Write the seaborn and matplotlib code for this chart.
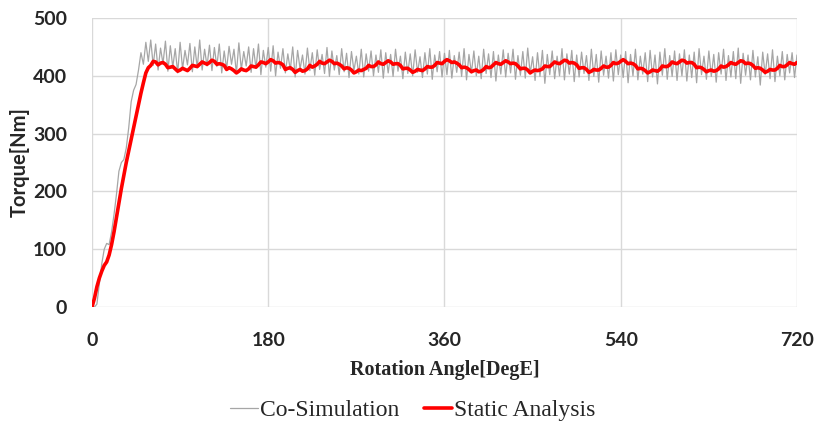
import numpy as np
import pandas as pd
import seaborn as sns
import matplotlib.pyplot as plt

sns.set_style("white")

# rotation angle, every 2.5 deg from 0 to 720
angle = np.arange(0, 720.01, 2.5)

# Co-Simulation torque
cosim_torque = [
    0, 0, 5, 40, 75, 100, 110, 108, 130, 160, 195, 235, 250, 255, 275, 310, 355, 375, 385, 410, 440, 420, 458, 425, 462,
    418, 455, 410, 448, 421, 460, 408, 452, 415, 447, 405, 458, 412, 444, 419, 456, 407, 450, 414, 462, 410, 446, 417, 453,
    409, 449, 416, 455, 405, 443, 412, 451, 420, 446, 404, 457, 411, 442, 417, 450, 406, 447, 413, 455, 402, 444, 415, 449,
    408, 452, 400, 441, 413, 447, 405, 438, 410, 450, 398, 444, 412, 436, 403, 448, 409, 440, 401, 445, 411, 437, 404, 449,
    399, 443, 410, 435, 402, 447, 407, 439, 397, 442, 409, 434, 403, 446, 398, 438, 408, 443, 400, 436, 406, 445, 396, 440,
    405, 437, 399, 446, 408, 434, 395, 441, 404, 438, 400, 445, 406, 433, 397, 440, 403, 447, 394, 436, 407, 442, 398, 439,
    402, 444, 396, 435, 406, 441, 399, 447, 393, 437, 405, 443, 400, 434, 395, 446, 404, 438, 397, 442, 391, 436, 403, 445,
    398, 439, 405, 446, 394, 435, 401, 442, 396, 448, 404, 433, 392, 440, 399, 444, 387, 437, 402, 443, 395, 434, 400, 447,
    393, 438, 403, 444, 390, 436, 398, 441, 404, 435, 392, 446, 399, 437, 389, 443, 401, 434, 396, 440, 391, 445, 402, 436,
    397, 442, 388, 437, 400, 446, 393, 434, 403, 440, 390, 444, 398, 436, 386, 441, 401, 447, 394, 435, 399, 443, 392, 438,
    400, 445, 391, 436, 397, 441, 388, 447, 402, 434, 394, 443, 399, 437, 389, 440, 403, 446, 392, 435, 398, 442, 395, 448,
    387, 439, 401, 436, 393, 444, 398, 433, 384, 441, 402, 438, 395, 445, 390, 434, 400, 442, 393, 437, 405, 440, 397, 436,
]

# Static analysis torque
static_torque = [
    0, 15, 35, 50, 62, 72, 78, 90, 108, 130, 155, 180, 205, 228, 250, 270, 290, 310, 330, 350, 370, 388, 405, 414, 418,
    425, 424, 419, 422, 423, 420, 414, 415, 416, 412, 408, 410, 413, 411, 409, 413, 418, 417, 416, 420, 424, 422, 420, 423,
    427, 425, 420, 421, 420, 418, 411, 414, 412, 409, 405, 408, 412, 410, 409, 412, 417, 416, 415, 419, 424, 423, 421, 424,
    428, 426, 422, 423, 422, 419, 411, 413, 414, 411, 406, 409, 411, 408, 409, 412, 418, 415, 417, 420, 425, 422, 421, 424,
    427, 425, 421, 422, 420, 417, 412, 414, 413, 410, 405, 407, 410, 409, 411, 413, 418, 416, 416, 419, 424, 421, 420, 423,
    426, 424, 420, 421, 421, 418, 412, 413, 413, 410, 406, 408, 411, 410, 409, 412, 416, 415, 415, 418, 423, 422, 421, 425,
    428, 426, 423, 424, 422, 419, 414, 415, 414, 411, 407, 409, 410, 407, 408, 411, 416, 414, 415, 419, 423, 421, 420, 423,
    426, 424, 421, 422, 421, 417, 412, 413, 413, 410, 405, 408, 410, 409, 410, 412, 417, 416, 416, 420, 424, 422, 421, 424,
    427, 426, 422, 423, 422, 419, 413, 414, 414, 411, 406, 408, 411, 410, 410, 413, 417, 415, 415, 418, 423, 421, 422, 425,
    428, 425, 421, 422, 421, 418, 412, 413, 412, 409, 405, 407, 410, 409, 408, 411, 417, 416, 416, 419, 424, 422, 421, 424,
    427, 426, 422, 423, 423, 420, 414, 415, 414, 411, 407, 409, 410, 408, 409, 412, 417, 415, 416, 419, 423, 421, 420, 423,
    426, 425, 421, 422, 421, 418, 413, 414, 413, 410, 406, 408, 411, 410, 410, 413, 418, 416, 416, 419, 423, 421, 420, 423,
]

x_ticks = [0, 180, 360, 540, 720]
y_ticks = [0, 100, 200, 300, 400, 500]

df = pd.DataFrame({
    'angle': np.concatenate([angle, angle]),
    'torque': cosim_torque + static_torque,
    'series': ['Co-Simulation'] * len(angle) + ['Static Analysis'] * len(angle),
})

fig = plt.figure(figsize=(8.17, 4.25), dpi=100)
ax = fig.add_axes([0.1126, 0.2776, 0.8629, 0.68])

sns.lineplot(data=df, x='angle', y='torque', hue='series', size='series',
             palette={'Co-Simulation': '#a6a6a6', 'Static Analysis': '#ff0000'},
             sizes={'Co-Simulation': 0.9, 'Static Analysis': 2.6}, ax=ax)

ax.set_xlim(0, 720)
ax.set_ylim(0, 500)
ax.set_xticks(x_ticks)
ax.set_yticks(y_ticks)
ax.grid(True, color='#d9d9d9', linewidth=1)
ax.set_axisbelow(True)
for s in ax.spines.values():
    s.set_visible(False)

ax.tick_params(axis='both', length=0, labelsize=14)
ax.tick_params(axis='x', pad=18)
ax.tick_params(axis='y', pad=18)
for lbl in ax.get_xticklabels() + ax.get_yticklabels():
    lbl.set_fontweight('bold')
    lbl.set_fontfamily('Lato')

ax.set_xlabel('Rotation Angle[DegE]', fontsize=14.5, fontweight='bold', family='Liberation Serif', labelpad=8)
ax.set_ylabel('Torque[Nm]', fontsize=14.5, fontweight='bold', family='Lato')
ax.yaxis.set_label_coords(-0.089, 0.5)

ax.get_legend().remove()
h, l = ax.get_legend_handles_labels()
fig.legend(h[-2:], l[-2:], loc='center', bbox_to_anchor=(0.505, 0.035), ncol=2, frameon=False,
           prop={'family': 'Liberation Serif', 'size': 17}, handlelength=1.2, handletextpad=0.08,
           columnspacing=1.05)

fig.savefig('out.png', dpi=100)
